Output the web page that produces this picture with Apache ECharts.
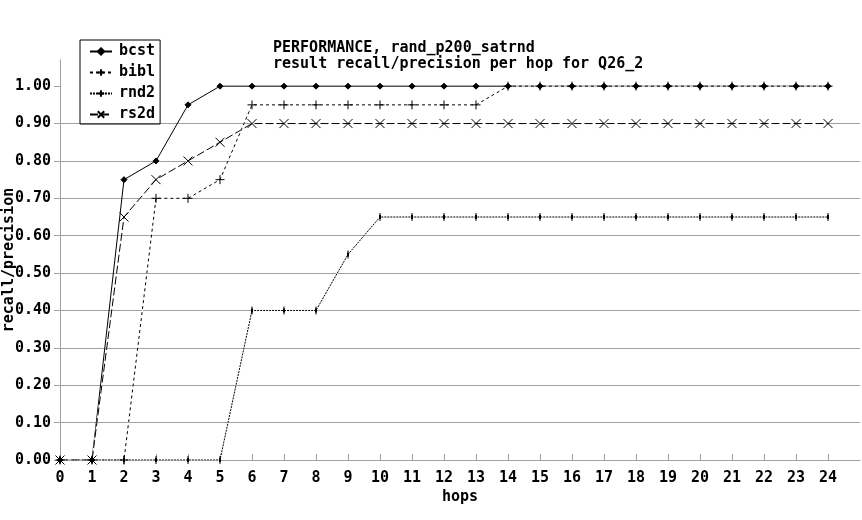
<!DOCTYPE html>
<html>
<head>
<meta charset="utf-8">
<script src="https://cdn.jsdelivr.net/npm/echarts@6/dist/echarts.min.js"></script>
<style>html,body{margin:0;padding:0;background:#fff;}#c{width:862px;height:520px;}</style>
</head>
<body>
<div id="c"></div>
<script>
const hops = [0,1,2,3,4,5,6,7,8,9,10,11,12,13,14,15,16,17,18,19,20,21,22,23,24];
const bcst = [0,0,0.75,0.80,0.95,1,1,1,1,1,1,1,1,1,1,1,1,1,1,1,1,1,1,1,1];
const bibl = [0,0,0,0.70,0.70,0.75,0.95,0.95,0.95,0.95,0.95,0.95,0.95,0.95,1,1,1,1,1,1,1,1,1,1,1];
const rnd2 = [0,0,0,0,0,0,0.40,0.40,0.40,0.55,0.65,0.65,0.65,0.65,0.65,0.65,0.65,0.65,0.65,0.65,0.65,0.65,0.65,0.65,0.65];
const rs2d = [0,0,0.65,0.75,0.80,0.85,0.90,0.90,0.90,0.90,0.90,0.90,0.90,0.90,0.90,0.90,0.90,0.90,0.90,0.90,0.90,0.90,0.90,0.90,0.90];
const yTicks = [0,0.1,0.2,0.3,0.4,0.5,0.6,0.7,0.8,0.9,1.0];
const xTicks = hops;
const titleText = 'PERFORMANCE, rand_p200_satrnd\nresult recall/precision per hop for Q26_2';

const FONT = 'DejaVu Sans Mono';
const GRAY = '#a0a0a0';
function pairs(arr){ return hops.map((h,i)=>[h, arr[i]]); }
const txt = {fontFamily: FONT, fontSize: 15, fontWeight: 'bold', color: '#000'};

function backing(arr){
  return {type:'line', name:'_bk', data: pairs(arr), symbol:'none', silent:true,
    lineStyle:{color:'#fff', width:1, type:'solid'}, animation:false, legendHoverLink:false};
}
const mk = {color:'#000', borderColor:'#000', borderWidth:1};

const chart = echarts.init(document.getElementById('c'), null, {renderer:'canvas'});
chart.setOption({
  animation: false,
  backgroundColor: '#fff',
  title: {text: titleText, left: 273, top: 40, padding: 0,
    textStyle: Object.assign({}, txt, {lineHeight: 16})},
  legend: {
    data: ['bcst','bibl','rnd2','rs2d'],
    orient: 'vertical', left: 80, top: 40,
    borderColor: '#000', borderWidth: 1, borderRadius: 0,
    padding: [4, 5, 2, 9], itemGap: 6, itemWidth: 22, itemHeight: 8,
    textStyle: Object.assign({}, txt, {lineHeight: 14, padding:[0,0,0,2]})
  },
  grid: {left: 60, right: 2, top: 60, bottom: 60, containLabel: false, outerBoundsMode: 'none'},
  xAxis: {
    type: 'value', min: 0, max: 25, interval: 1,
    name: 'hops', nameLocation: 'middle', nameGap: 30, nameMoveOverlap: false, nameTextStyle: txt,
    axisLine: {show: true, lineStyle: {color: GRAY}},
    axisTick: {show: true, inside: true, length: 6, lineStyle: {color: GRAY}, customValues: xTicks},
    axisLabel: Object.assign({}, txt, {margin: 11, customValues: xTicks, formatter: v => String(v)}),
    splitLine: {show: false}
  },
  yAxis: {
    type: 'value', min: 0, max: 1.07, interval: 0.1,
    name: 'recall/precision', nameLocation: 'middle', nameGap: 43, nameMoveOverlap: false, nameTextStyle: txt,
    axisLine: {show: true, lineStyle: {color: GRAY}},
    axisTick: {show: true, inside: false, length: 6, lineStyle: {color: GRAY}, customValues: yTicks},
    axisLabel: Object.assign({}, txt, {margin: 9, customValues: yTicks, formatter: v => v.toFixed(2)}),
    splitLine: {show: true, lineStyle: {color: GRAY, width: 1}, showMaxLine: false}
  },
  series: [
    {type:'line', name:'bcst', data: pairs(bcst), symbol:'diamond', symbolSize: 6, showAllSymbol: true,
      lineStyle:{color:'#000', width:1, type:'solid'}, itemStyle: mk},
    backing(bibl),
    {type:'line', name:'bibl', data: pairs(bibl), symbol:'path://M4,0L4,8M0,4L8,4', symbolSize: 9, showAllSymbol: true,
      lineStyle:{color:'#000', width:1, type:[3,3]}, itemStyle: mk},
    backing(rnd2),
    {type:'line', name:'rnd2', data: pairs(rnd2), symbol:'path://M2,0L2,8M1.5,4L2.5,4', symbolSize: [2,8], showAllSymbol: true,
      lineStyle:{color:'#000', width:1, type:[2,1]}, itemStyle: mk},
    backing(rs2d),
    {type:'line', name:'rs2d', data: pairs(rs2d), symbol:'path://M0,0L8,8M8,0L0,8', symbolSize: 9, showAllSymbol: true,
      lineStyle:{color:'#000', width:1, type:[8,3]}, itemStyle: mk}
  ]
});
</script>
</body>
</html>
